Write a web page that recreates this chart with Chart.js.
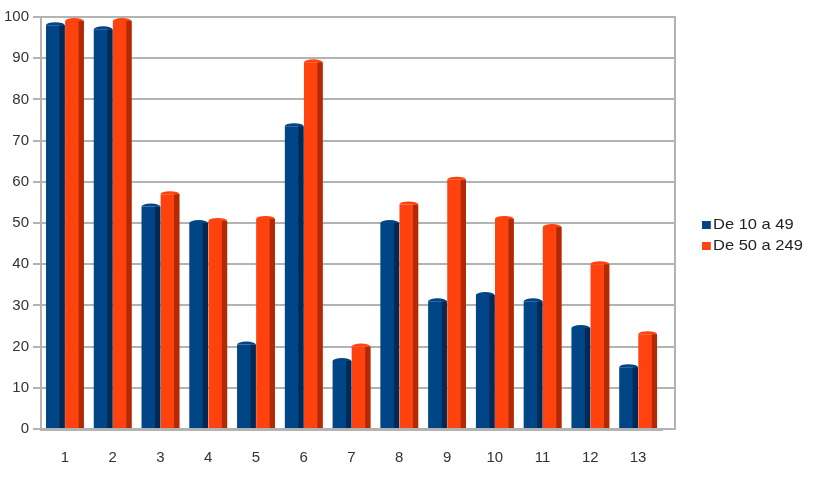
<!DOCTYPE html>
<html>
<head>
<meta charset="utf-8">
<script src="https://cdn.jsdelivr.net/npm/chart.js@4"></script>
<style>
  body { margin: 0; background: #fff; }
  #wrap { position: relative; width: 817px; height: 485px; }
  #legend { position: absolute; left: 702px; top: 213px; font: 15px "Liberation Sans", Arial, sans-serif; color: #222;
            transform: scaleX(1.1); transform-origin: left top; }
  #legend div { height: 21px; line-height: 21px; white-space: nowrap; }
  #legend span { display: inline-block; width: 8px; height: 8px; margin-right: 2px; vertical-align: 0px; }
</style>
</head>
<body>
<div id="wrap">
  <canvas id="chart" width="817" height="485"></canvas>
  <div id="legend"></div>
</div>
<script>
// category labels and series
const categories = ['1', '2', '3', '4', '5', '6', '7', '8', '9', '10', '11', '12', '13'];
const small = [98, 97, 54, 50, 20.5, 73.5, 16.5, 50, 31, 32.5, 31, 24.5, 15];
const medium = [99, 99, 57, 50.5, 51, 89, 20, 54.5, 60.5, 51, 49, 40, 23];
const seriesNames = ['De 10 a 49', 'De 50 a 249'];
const colors = ['#004586', '#ff420e'];
const sideColors = ['#002a55', '#b02a06'];

// darker right strip + rounded cap to hint at the 3D cylinders
const shade3d = {
  id: 'shade3d',
  afterDatasetsDraw(chart) {
    const ctx = chart.ctx;
    chart.data.datasets.forEach((ds, i) => {
      chart.getDatasetMeta(i).data.forEach(bar => {
        const w = bar.width;
        const left = bar.x - w / 2;
        ctx.save();
        ctx.fillStyle = sideColors[i];
        ctx.fillRect(left + w * 0.72, bar.y, w * 0.28, bar.base - bar.y);
        ctx.beginPath();
        ctx.ellipse(bar.x, bar.y, w / 2, 3, 0, Math.PI, 2 * Math.PI);
        ctx.fillStyle = colors[i];
        ctx.fill();
        ctx.restore();
      });
    });
  }
};

// the back wall runs a little past the last category: extend grid + right border
const frame = {
  id: 'frame',
  beforeDatasetsDraw(chart) {
    const { ctx, chartArea, scales } = chart;
    const ext = 13;
    ctx.save();
    ctx.strokeStyle = '#b3b3b3';
    ctx.lineWidth = 2;
    ctx.beginPath();
    scales.y.ticks.forEach(t => {
      const y = Math.round(scales.y.getPixelForValue(t.value));
      ctx.moveTo(chartArea.right - 2, y);
      ctx.lineTo(chartArea.right + ext, y);
    });
    ctx.moveTo(chartArea.right + ext, chartArea.top - 1);
    ctx.lineTo(chartArea.right + ext, chartArea.bottom + 1);
    ctx.stroke();
    ctx.restore();
  }
};

new Chart(document.getElementById('chart'), {
  type: 'bar',
  data: {
    labels: categories,
    datasets: [
      { label: seriesNames[0], data: small, backgroundColor: colors[0] },
      { label: seriesNames[1], data: medium, backgroundColor: colors[1] }
    ]
  },
  options: {
    responsive: false,
    animation: false,
    layout: { padding: { top: 17, right: 155, bottom: 6, left: 0 } },
    datasets: { bar: { barPercentage: 0.98, categoryPercentage: 0.8 } },
    plugins: {
      legend: { display: false },
      tooltip: { enabled: false }
    },
    scales: {
      x: {
        grid: { display: false },
        border: { color: '#b3b3b3', width: 3 },
        ticks: { color: '#333', padding: 12, font: { family: 'Liberation Sans', size: 15 } }
      },
      y: {
        min: 0,
        max: 100,
        ticks: { stepSize: 10, color: '#333', padding: 4, font: { family: 'Liberation Sans', size: 15 } },
        grid: {
          color: '#b3b3b3',
          lineWidth: 2,
          tickLength: 8
        },
        border: { color: '#b3b3b3', width: 2 }
      }
    }
  },
  plugins: [frame, shade3d]
});

document.getElementById('legend').innerHTML = seriesNames
  .map((n, i) => '<div><span style="background:' + colors[i] + '"></span>' + n + '</div>')
  .join('');
</script>
</body>
</html>
